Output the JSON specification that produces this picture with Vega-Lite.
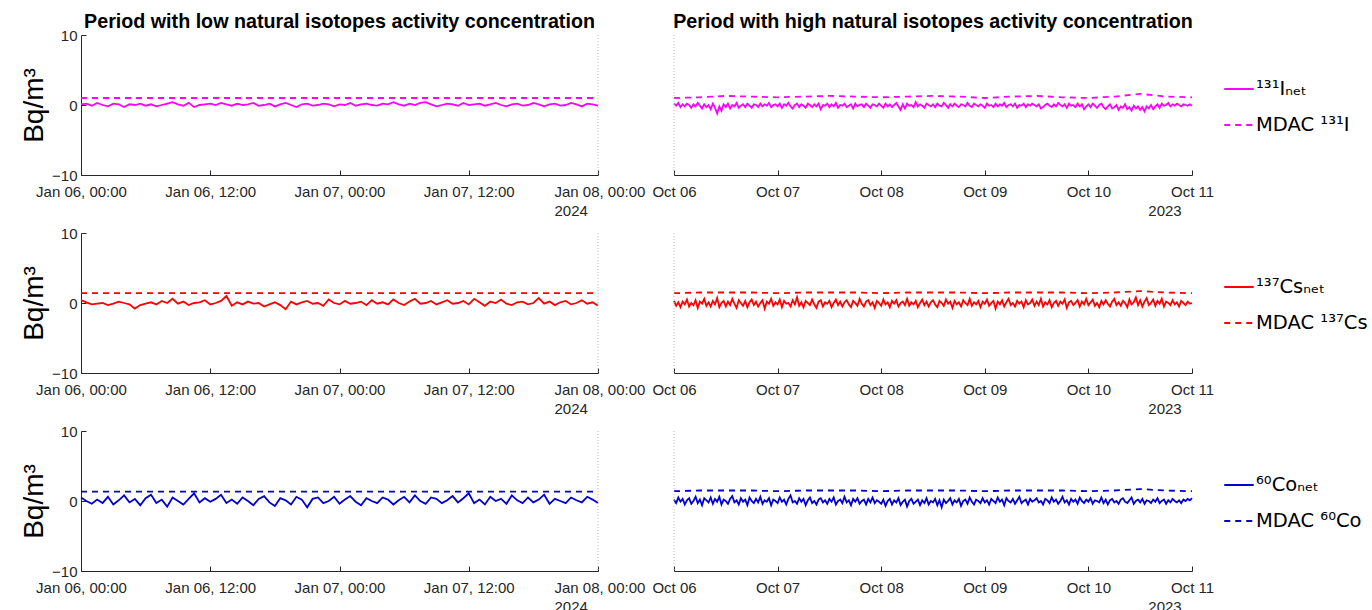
{
"$schema": "https://vega.github.io/schema/vega-lite/v6.json",
"background": "white",
"padding": {"left": 20, "top": 11, "right": 5, "bottom": 5},
"config": {
  "view": {"stroke": null},
  "font": "Liberation Sans",
  "axis": {"grid": false, "labelFont": "Liberation Sans", "labelFontSize": 15, "labelColor": "#262626", "domainColor": "#262626", "tickColor": "#262626", "tickSize": -5, "labelFlush": false, "labelOverlap": false, "titleFont": "Liberation Sans"},
  "axisX": {"labelPadding": 14},
  "axisY": {"labelPadding": 9},
  "legend": {"symbolType": "stroke", "symbolSize": 870, "symbolStrokeWidth": 2, "labelFontSize": 19.5, "labelFont": "DejaVu Sans", "labelColor": "#000000", "labelOffset": 1, "rowPadding": 10, "padding": 0, "labelLimit": 300},
  "title": {"font": "Liberation Sans", "fontSize": 19.7, "fontWeight": "bold", "color": "#000000", "anchor": "middle"}
},
"datasets": {
"janN": [
{"t":"2024-01-06T00:00","i":0.1,"c":0.4,"o":0.5},
{"t":"2024-01-06T00:30","i":0.2,"c":0.1,"o":0.0},
{"t":"2024-01-06T01:00","i":-0.1,"c":-0.2,"o":-0.4},
{"t":"2024-01-06T01:30","i":0.3,"c":-0.1,"o":0.2},
{"t":"2024-01-06T02:00","i":0.0,"c":0.0,"o":-0.3},
{"t":"2024-01-06T02:30","i":-0.2,"c":-0.3,"o":0.6},
{"t":"2024-01-06T03:00","i":0.2,"c":-0.1,"o":-0.5},
{"t":"2024-01-06T03:30","i":0.1,"c":0.2,"o":0.1},
{"t":"2024-01-06T04:00","i":-0.3,"c":0.0,"o":0.8},
{"t":"2024-01-06T04:30","i":0.1,"c":-0.2,"o":-0.2},
{"t":"2024-01-06T05:00","i":0.0,"c":-0.8,"o":0.3},
{"t":"2024-01-06T05:30","i":0.2,"c":-0.3,"o":-0.6},
{"t":"2024-01-06T06:00","i":-0.1,"c":-0.1,"o":0.4},
{"t":"2024-01-06T06:30","i":0.1,"c":0.1,"o":0.9},
{"t":"2024-01-06T07:00","i":-0.2,"c":-0.2,"o":-0.3},
{"t":"2024-01-06T07:30","i":0.0,"c":0.3,"o":0.2},
{"t":"2024-01-06T08:00","i":0.2,"c":0.0,"o":-0.8},
{"t":"2024-01-06T08:30","i":0.4,"c":0.6,"o":0.5},
{"t":"2024-01-06T09:00","i":0.1,"c":-0.1,"o":0.0},
{"t":"2024-01-06T09:30","i":-0.1,"c":0.2,"o":-0.5},
{"t":"2024-01-06T10:00","i":0.3,"c":-0.3,"o":0.3},
{"t":"2024-01-06T10:30","i":-0.3,"c":0.0,"o":1.1},
{"t":"2024-01-06T11:00","i":0.0,"c":0.1,"o":-0.2},
{"t":"2024-01-06T11:30","i":0.1,"c":0.4,"o":0.4},
{"t":"2024-01-06T12:00","i":0.2,"c":-0.2,"o":-0.1},
{"t":"2024-01-06T12:30","i":0.0,"c":0.0,"o":0.3},
{"t":"2024-01-06T13:00","i":0.3,"c":0.3,"o":0.9},
{"t":"2024-01-06T13:30","i":0.1,"c":1.0,"o":-0.3},
{"t":"2024-01-06T14:00","i":-0.1,"c":-0.4,"o":0.2},
{"t":"2024-01-06T14:30","i":0.2,"c":0.1,"o":-0.4},
{"t":"2024-01-06T15:00","i":0.0,"c":-0.2,"o":0.5},
{"t":"2024-01-06T15:30","i":0.1,"c":0.2,"o":0.0},
{"t":"2024-01-06T16:00","i":0.3,"c":-0.1,"o":-0.6},
{"t":"2024-01-06T16:30","i":-0.1,"c":0.0,"o":0.3},
{"t":"2024-01-06T17:00","i":0.0,"c":-0.5,"o":0.7},
{"t":"2024-01-06T17:30","i":0.2,"c":-0.2,"o":-0.2},
{"t":"2024-01-06T18:00","i":-0.2,"c":0.1,"o":-0.7},
{"t":"2024-01-06T18:30","i":0.1,"c":-0.3,"o":0.4},
{"t":"2024-01-06T19:00","i":0.3,"c":-0.9,"o":0.1},
{"t":"2024-01-06T19:30","i":0.0,"c":0.2,"o":-0.5},
{"t":"2024-01-06T20:00","i":-0.3,"c":-0.2,"o":0.6},
{"t":"2024-01-06T20:30","i":0.1,"c":0.1,"o":0.2},
{"t":"2024-01-06T21:00","i":0.2,"c":0.3,"o":-0.9},
{"t":"2024-01-06T21:30","i":-0.1,"c":-0.1,"o":0.3},
{"t":"2024-01-06T22:00","i":0.0,"c":0.0,"o":0.5},
{"t":"2024-01-06T22:30","i":0.2,"c":-0.4,"o":-0.3},
{"t":"2024-01-06T23:00","i":0.1,"c":0.5,"o":0.0},
{"t":"2024-01-06T23:30","i":-0.2,"c":0.0,"o":0.6},
{"t":"2024-01-07T00:00","i":0.1,"c":-0.2,"o":-0.4},
{"t":"2024-01-07T00:30","i":0.0,"c":0.3,"o":0.2},
{"t":"2024-01-07T01:00","i":0.3,"c":-0.1,"o":0.7},
{"t":"2024-01-07T01:30","i":-0.1,"c":0.0,"o":-0.1},
{"t":"2024-01-07T02:00","i":0.1,"c":0.2,"o":-0.6},
{"t":"2024-01-07T02:30","i":0.2,"c":-0.3,"o":0.4},
{"t":"2024-01-07T03:00","i":0.0,"c":0.4,"o":0.0},
{"t":"2024-01-07T03:30","i":-0.1,"c":-0.1,"o":-0.3},
{"t":"2024-01-07T04:00","i":0.2,"c":0.1,"o":0.5},
{"t":"2024-01-07T04:30","i":0.1,"c":-0.2,"o":0.2},
{"t":"2024-01-07T05:00","i":0.4,"c":0.5,"o":-0.5},
{"t":"2024-01-07T05:30","i":0.1,"c":0.0,"o":0.1},
{"t":"2024-01-07T06:00","i":-0.1,"c":-0.3,"o":0.6},
{"t":"2024-01-07T06:30","i":0.2,"c":0.2,"o":-0.2},
{"t":"2024-01-07T07:00","i":0.0,"c":0.6,"o":0.8},
{"t":"2024-01-07T07:30","i":0.3,"c":-0.1,"o":0.0},
{"t":"2024-01-07T08:00","i":0.4,"c":0.0,"o":-0.4},
{"t":"2024-01-07T08:30","i":0.1,"c":0.3,"o":0.5},
{"t":"2024-01-07T09:00","i":-0.2,"c":-0.2,"o":0.3},
{"t":"2024-01-07T09:30","i":0.0,"c":0.1,"o":-0.3},
{"t":"2024-01-07T10:00","i":0.2,"c":0.4,"o":0.1},
{"t":"2024-01-07T10:30","i":0.1,"c":-0.1,"o":0.7},
{"t":"2024-01-07T11:00","i":-0.1,"c":0.0,"o":-0.2},
{"t":"2024-01-07T11:30","i":0.3,"c":0.3,"o":0.4},
{"t":"2024-01-07T12:00","i":0.0,"c":-0.2,"o":1.1},
{"t":"2024-01-07T12:30","i":0.1,"c":0.6,"o":-0.3},
{"t":"2024-01-07T13:00","i":0.2,"c":0.1,"o":0.2},
{"t":"2024-01-07T13:30","i":-0.1,"c":-0.4,"o":-0.5},
{"t":"2024-01-07T14:00","i":0.1,"c":0.2,"o":0.6},
{"t":"2024-01-07T14:30","i":0.3,"c":0.0,"o":0.0},
{"t":"2024-01-07T15:00","i":0.0,"c":0.5,"o":0.3},
{"t":"2024-01-07T15:30","i":-0.2,"c":-0.1,"o":-0.4},
{"t":"2024-01-07T16:00","i":0.1,"c":-0.3,"o":0.8},
{"t":"2024-01-07T16:30","i":0.2,"c":0.1,"o":0.1},
{"t":"2024-01-07T17:00","i":-0.1,"c":0.2,"o":-0.3},
{"t":"2024-01-07T17:30","i":0.0,"c":-0.2,"o":0.5},
{"t":"2024-01-07T18:00","i":0.3,"c":0.0,"o":-0.2},
{"t":"2024-01-07T18:30","i":0.1,"c":0.7,"o":0.2},
{"t":"2024-01-07T19:00","i":-0.2,"c":-0.1,"o":0.9},
{"t":"2024-01-07T19:30","i":0.1,"c":0.2,"o":-0.4},
{"t":"2024-01-07T20:00","i":0.2,"c":-0.3,"o":0.3},
{"t":"2024-01-07T20:30","i":-0.1,"c":0.1,"o":0.0},
{"t":"2024-01-07T21:00","i":0.0,"c":0.3,"o":-0.3},
{"t":"2024-01-07T21:30","i":0.3,"c":-0.2,"o":0.5},
{"t":"2024-01-07T22:00","i":0.1,"c":0.0,"o":0.1},
{"t":"2024-01-07T22:30","i":-0.2,"c":0.4,"o":-0.2},
{"t":"2024-01-07T23:00","i":0.2,"c":-0.1,"o":0.6},
{"t":"2024-01-07T23:30","i":0.1,"c":0.1,"o":0.2},
{"t":"2024-01-08T00:00","i":-0.1,"c":-0.4,"o":-0.3}
],
"janM": [
{"t":"2024-01-06T00:00","i":1.0,"c":1.4,"o":1.35},
{"t":"2024-01-08T00:00","i":1.0,"c":1.4,"o":1.35}
],
"octM": [
{"t":"2023-10-06T00:00","i":1.0,"c":1.4,"o":1.4},
{"t":"2023-10-06T06:00","i":1.1,"c":1.5,"o":1.5},
{"t":"2023-10-06T12:00","i":1.3,"c":1.5,"o":1.5},
{"t":"2023-10-06T18:00","i":1.2,"c":1.5,"o":1.5},
{"t":"2023-10-07T00:00","i":1.1,"c":1.4,"o":1.4},
{"t":"2023-10-07T06:00","i":1.2,"c":1.5,"o":1.5},
{"t":"2023-10-07T12:00","i":1.3,"c":1.5,"o":1.5},
{"t":"2023-10-07T18:00","i":1.2,"c":1.5,"o":1.5},
{"t":"2023-10-08T00:00","i":1.1,"c":1.4,"o":1.4},
{"t":"2023-10-08T06:00","i":1.2,"c":1.5,"o":1.5},
{"t":"2023-10-08T12:00","i":1.3,"c":1.5,"o":1.5},
{"t":"2023-10-08T18:00","i":1.2,"c":1.5,"o":1.5},
{"t":"2023-10-09T00:00","i":1.0,"c":1.4,"o":1.4},
{"t":"2023-10-09T06:00","i":1.2,"c":1.5,"o":1.5},
{"t":"2023-10-09T12:00","i":1.3,"c":1.5,"o":1.5},
{"t":"2023-10-09T18:00","i":1.1,"c":1.5,"o":1.5},
{"t":"2023-10-10T00:00","i":1.0,"c":1.4,"o":1.4},
{"t":"2023-10-10T06:00","i":1.2,"c":1.5,"o":1.5},
{"t":"2023-10-10T12:00","i":1.6,"c":1.7,"o":1.7},
{"t":"2023-10-10T18:00","i":1.2,"c":1.5,"o":1.5},
{"t":"2023-10-11T00:00","i":1.1,"c":1.4,"o":1.4}
],
"octN": [
{"t":"2023-10-06T00:00","i":0.2,"c":0.3,"o":0.2},
{"t":"2023-10-06T00:30","i":-0.1,"c":-0.4,"o":-0.3},
{"t":"2023-10-06T01:00","i":0.3,"c":0.1,"o":0.5},
{"t":"2023-10-06T01:30","i":-0.3,"c":-0.6,"o":-0.1},
{"t":"2023-10-06T02:00","i":0.1,"c":0.2,"o":0.3},
{"t":"2023-10-06T02:30","i":-0.2,"c":-0.2,"o":-0.5},
{"t":"2023-10-06T03:00","i":0.2,"c":0.5,"o":0.1},
{"t":"2023-10-06T03:30","i":0.0,"c":-0.5,"o":0.4},
{"t":"2023-10-06T04:00","i":-0.4,"c":0.0,"o":-0.4},
{"t":"2023-10-06T04:30","i":0.1,"c":-0.3,"o":0.0},
{"t":"2023-10-06T05:00","i":-0.2,"c":0.4,"o":0.6},
{"t":"2023-10-06T05:30","i":0.3,"c":-0.7,"o":-0.3},
{"t":"2023-10-06T06:00","i":-0.1,"c":0.2,"o":0.2},
{"t":"2023-10-06T06:30","i":-0.5,"c":-0.1,"o":-0.6},
{"t":"2023-10-06T07:00","i":0.1,"c":0.6,"o":0.4},
{"t":"2023-10-06T07:30","i":-0.3,"c":-0.4,"o":0.1},
{"t":"2023-10-06T08:00","i":0.0,"c":0.1,"o":-0.2},
{"t":"2023-10-06T08:30","i":-0.6,"c":-0.5,"o":0.5},
{"t":"2023-10-06T09:00","i":0.2,"c":0.3,"o":-0.4},
{"t":"2023-10-06T09:30","i":-0.4,"c":-0.2,"o":0.3},
{"t":"2023-10-06T10:00","i":-1.2,"c":0.7,"o":-0.1},
{"t":"2023-10-06T10:30","i":-0.2,"c":-0.6,"o":0.6},
{"t":"2023-10-06T11:00","i":-0.8,"c":0.0,"o":-0.5},
{"t":"2023-10-06T11:30","i":0.1,"c":0.3,"o":0.2},
{"t":"2023-10-06T12:00","i":-0.3,"c":-0.5,"o":0.0},
{"t":"2023-10-06T12:30","i":0.2,"c":0.2,"o":-0.4},
{"t":"2023-10-06T13:00","i":-0.5,"c":-0.3,"o":0.3},
{"t":"2023-10-06T13:30","i":0.0,"c":0.6,"o":0.7},
{"t":"2023-10-06T14:00","i":-0.2,"c":-0.1,"o":-0.2},
{"t":"2023-10-06T14:30","i":0.3,"c":-0.7,"o":0.1},
{"t":"2023-10-06T15:00","i":-0.4,"c":0.4,"o":-0.5},
{"t":"2023-10-06T15:30","i":-0.1,"c":0.0,"o":0.4},
{"t":"2023-10-06T16:00","i":0.1,"c":-0.4,"o":-0.1},
{"t":"2023-10-06T16:30","i":-0.3,"c":0.3,"o":0.2},
{"t":"2023-10-06T17:00","i":0.2,"c":-0.6,"o":-0.6},
{"t":"2023-10-06T17:30","i":-0.1,"c":0.1,"o":0.5},
{"t":"2023-10-06T18:00","i":-0.4,"c":0.5,"o":0.0},
{"t":"2023-10-06T18:30","i":0.1,"c":-0.3,"o":-0.3},
{"t":"2023-10-06T19:00","i":0.0,"c":0.2,"o":0.3},
{"t":"2023-10-06T19:30","i":-0.3,"c":-0.5,"o":-0.2},
{"t":"2023-10-06T20:00","i":0.2,"c":0.0,"o":0.6},
{"t":"2023-10-06T20:30","i":-0.2,"c":0.4,"o":-0.4},
{"t":"2023-10-06T21:00","i":0.1,"c":-0.8,"o":0.1},
{"t":"2023-10-06T21:30","i":-0.1,"c":0.2,"o":-0.1},
{"t":"2023-10-06T22:00","i":0.3,"c":-0.1,"o":0.4},
{"t":"2023-10-06T22:30","i":-0.3,"c":0.6,"o":-0.6},
{"t":"2023-10-06T23:00","i":0.0,"c":-0.4,"o":0.2},
{"t":"2023-10-06T23:30","i":0.1,"c":0.1,"o":0.0},
{"t":"2023-10-07T00:00","i":-0.2,"c":-0.2,"o":-0.3},
{"t":"2023-10-07T00:30","i":0.2,"c":0.5,"o":0.5},
{"t":"2023-10-07T01:00","i":-0.4,"c":-0.6,"o":-0.1},
{"t":"2023-10-07T01:30","i":0.1,"c":0.3,"o":0.2},
{"t":"2023-10-07T02:00","i":-0.1,"c":-0.1,"o":-0.5},
{"t":"2023-10-07T02:30","i":0.3,"c":0.0,"o":0.3},
{"t":"2023-10-07T03:00","i":-0.2,"c":-0.5,"o":0.8},
{"t":"2023-10-07T03:30","i":-0.5,"c":0.4,"o":-0.2},
{"t":"2023-10-07T04:00","i":0.0,"c":-0.2,"o":0.0},
{"t":"2023-10-07T04:30","i":0.2,"c":0.8,"o":-0.4},
{"t":"2023-10-07T05:00","i":-0.3,"c":-0.4,"o":0.4},
{"t":"2023-10-07T05:30","i":0.1,"c":0.1,"o":-0.1},
{"t":"2023-10-07T06:00","i":-0.1,"c":-0.6,"o":0.3},
{"t":"2023-10-07T06:30","i":-0.4,"c":0.3,"o":-0.6},
{"t":"2023-10-07T07:00","i":0.2,"c":0.0,"o":0.1},
{"t":"2023-10-07T07:30","i":0.0,"c":-0.3,"o":0.5},
{"t":"2023-10-07T08:00","i":-0.3,"c":0.5,"o":-0.3},
{"t":"2023-10-07T08:30","i":0.1,"c":-0.2,"o":0.0},
{"t":"2023-10-07T09:00","i":-0.2,"c":-0.7,"o":-0.5},
{"t":"2023-10-07T09:30","i":0.2,"c":0.2,"o":0.2},
{"t":"2023-10-07T10:00","i":-0.6,"c":0.4,"o":0.4},
{"t":"2023-10-07T10:30","i":0.0,"c":-0.5,"o":-0.2},
{"t":"2023-10-07T11:00","i":-0.1,"c":0.1,"o":0.1},
{"t":"2023-10-07T11:30","i":0.2,"c":-0.1,"o":-0.4},
{"t":"2023-10-07T12:00","i":-0.3,"c":0.3,"o":0.3},
{"t":"2023-10-07T12:30","i":0.1,"c":-0.6,"o":-0.1},
{"t":"2023-10-07T13:00","i":-0.2,"c":0.0,"o":0.5},
{"t":"2023-10-07T13:30","i":0.3,"c":0.5,"o":-0.5},
{"t":"2023-10-07T14:00","i":-0.4,"c":-0.3,"o":0.0},
{"t":"2023-10-07T14:30","i":0.0,"c":0.2,"o":0.2},
{"t":"2023-10-07T15:00","i":-0.1,"c":-0.5,"o":-0.3},
{"t":"2023-10-07T15:30","i":0.2,"c":0.1,"o":0.6},
{"t":"2023-10-07T16:00","i":-0.3,"c":0.4,"o":-0.2},
{"t":"2023-10-07T16:30","i":-0.1,"c":-0.2,"o":0.1},
{"t":"2023-10-07T17:00","i":0.1,"c":-0.6,"o":-0.6},
{"t":"2023-10-07T17:30","i":-0.5,"c":0.3,"o":0.3},
{"t":"2023-10-07T18:00","i":0.2,"c":0.0,"o":-0.1},
{"t":"2023-10-07T18:30","i":-0.2,"c":-0.4,"o":0.4},
{"t":"2023-10-07T19:00","i":0.0,"c":0.6,"o":-0.4},
{"t":"2023-10-07T19:30","i":0.1,"c":-0.1,"o":0.0},
{"t":"2023-10-07T20:00","i":-0.3,"c":-0.5,"o":0.2},
{"t":"2023-10-07T20:30","i":0.2,"c":0.2,"o":-0.5},
{"t":"2023-10-07T21:00","i":-0.1,"c":0.4,"o":0.3},
{"t":"2023-10-07T21:30","i":-0.4,"c":-0.3,"o":-0.2},
{"t":"2023-10-07T22:00","i":0.1,"c":0.1,"o":0.5},
{"t":"2023-10-07T22:30","i":0.0,"c":-0.7,"o":-0.3},
{"t":"2023-10-07T23:00","i":-0.2,"c":0.3,"o":0.1},
{"t":"2023-10-07T23:30","i":0.2,"c":0.0,"o":-0.1},
{"t":"2023-10-08T00:00","i":-0.1,"c":-0.4,"o":-0.4},
{"t":"2023-10-08T00:30","i":-0.4,"c":0.5,"o":0.2},
{"t":"2023-10-08T01:00","i":0.2,"c":-0.2,"o":-0.7},
{"t":"2023-10-08T01:30","i":-0.2,"c":0.1,"o":0.0},
{"t":"2023-10-08T02:00","i":0.1,"c":-0.6,"o":0.3},
{"t":"2023-10-08T02:30","i":-0.3,"c":0.3,"o":-0.5},
{"t":"2023-10-08T03:00","i":0.0,"c":-0.1,"o":0.1},
{"t":"2023-10-08T03:30","i":0.3,"c":0.4,"o":-0.2},
{"t":"2023-10-08T04:00","i":-0.2,"c":-0.5,"o":0.4},
{"t":"2023-10-08T04:30","i":-0.7,"c":0.0,"o":-0.6},
{"t":"2023-10-08T05:00","i":0.1,"c":0.2,"o":-0.1},
{"t":"2023-10-08T05:30","i":-0.5,"c":-0.3,"o":0.2},
{"t":"2023-10-08T06:00","i":0.2,"c":0.6,"o":-0.8},
{"t":"2023-10-08T06:30","i":-0.1,"c":-0.4,"o":0.0},
{"t":"2023-10-08T07:00","i":0.0,"c":0.1,"o":0.3},
{"t":"2023-10-08T07:30","i":-0.3,"c":-0.2,"o":-0.4},
{"t":"2023-10-08T08:00","i":0.4,"c":0.3,"o":-0.1},
{"t":"2023-10-08T08:30","i":-0.2,"c":-0.6,"o":0.2},
{"t":"2023-10-08T09:00","i":0.1,"c":0.0,"o":-0.6},
{"t":"2023-10-08T09:30","i":-0.1,"c":0.5,"o":0.1},
{"t":"2023-10-08T10:00","i":-0.4,"c":-0.3,"o":-0.3},
{"t":"2023-10-08T10:30","i":0.2,"c":0.2,"o":0.4},
{"t":"2023-10-08T11:00","i":0.0,"c":-0.5,"o":-0.5},
{"t":"2023-10-08T11:30","i":-0.2,"c":0.1,"o":0.0},
{"t":"2023-10-08T12:00","i":0.1,"c":0.4,"o":-0.2},
{"t":"2023-10-08T12:30","i":-0.3,"c":-0.2,"o":0.3},
{"t":"2023-10-08T13:00","i":0.2,"c":-0.6,"o":-0.6},
{"t":"2023-10-08T13:30","i":-0.1,"c":0.3,"o":0.1},
{"t":"2023-10-08T14:00","i":-0.2,"c":0.0,"o":-0.9},
{"t":"2023-10-08T14:30","i":0.3,"c":-0.4,"o":0.2},
{"t":"2023-10-08T15:00","i":0.0,"c":0.5,"o":-0.3},
{"t":"2023-10-08T15:30","i":-0.4,"c":-0.1,"o":0.0},
{"t":"2023-10-08T16:00","i":0.1,"c":0.2,"o":0.4},
{"t":"2023-10-08T16:30","i":-0.2,"c":-0.7,"o":-0.5},
{"t":"2023-10-08T17:00","i":0.2,"c":0.3,"o":0.1},
{"t":"2023-10-08T17:30","i":-0.1,"c":-0.2,"o":-0.2},
{"t":"2023-10-08T18:00","i":-0.3,"c":0.1,"o":0.3},
{"t":"2023-10-08T18:30","i":0.1,"c":-0.5,"o":-0.7},
{"t":"2023-10-08T19:00","i":0.0,"c":0.4,"o":0.0},
{"t":"2023-10-08T19:30","i":-0.2,"c":0.0,"o":0.2},
{"t":"2023-10-08T20:00","i":0.3,"c":-0.3,"o":-0.4},
{"t":"2023-10-08T20:30","i":-0.1,"c":0.6,"o":0.5},
{"t":"2023-10-08T21:00","i":-0.3,"c":-0.4,"o":-0.1},
{"t":"2023-10-08T21:30","i":0.2,"c":0.1,"o":-0.5},
{"t":"2023-10-08T22:00","i":0.0,"c":-0.2,"o":0.2},
{"t":"2023-10-08T22:30","i":-0.2,"c":0.3,"o":0.0},
{"t":"2023-10-08T23:00","i":0.1,"c":-0.6,"o":-0.3},
{"t":"2023-10-08T23:30","i":-0.1,"c":0.2,"o":0.4},
{"t":"2023-10-09T00:00","i":-0.4,"c":-0.1,"o":-0.2},
{"t":"2023-10-09T00:30","i":0.2,"c":0.5,"o":0.1},
{"t":"2023-10-09T01:00","i":-0.1,"c":-0.4,"o":-0.5},
{"t":"2023-10-09T01:30","i":0.0,"c":0.0,"o":0.3},
{"t":"2023-10-09T02:00","i":-0.3,"c":0.3,"o":0.0},
{"t":"2023-10-09T02:30","i":0.2,"c":-0.8,"o":-0.3},
{"t":"2023-10-09T03:00","i":-0.2,"c":0.2,"o":0.5},
{"t":"2023-10-09T03:30","i":0.1,"c":-0.2,"o":-0.1},
{"t":"2023-10-09T04:00","i":-0.1,"c":0.4,"o":0.2},
{"t":"2023-10-09T04:30","i":0.3,"c":-0.5,"o":-0.6},
{"t":"2023-10-09T05:00","i":-0.3,"c":0.1,"o":0.4},
{"t":"2023-10-09T05:30","i":0.0,"c":0.6,"o":0.0},
{"t":"2023-10-09T06:00","i":0.1,"c":-0.3,"o":-0.2},
{"t":"2023-10-09T06:30","i":-0.2,"c":0.0,"o":0.3},
{"t":"2023-10-09T07:00","i":0.2,"c":-0.5,"o":-0.4},
{"t":"2023-10-09T07:30","i":-0.4,"c":0.3,"o":0.1},
{"t":"2023-10-09T08:00","i":0.0,"c":-0.1,"o":0.6},
{"t":"2023-10-09T08:30","i":-0.1,"c":0.2,"o":-0.3},
{"t":"2023-10-09T09:00","i":0.2,"c":-0.6,"o":0.0},
{"t":"2023-10-09T09:30","i":-0.3,"c":0.4,"o":0.2},
{"t":"2023-10-09T10:00","i":0.1,"c":-0.2,"o":-0.5},
{"t":"2023-10-09T10:30","i":-0.1,"c":0.0,"o":0.3},
{"t":"2023-10-09T11:00","i":0.2,"c":0.5,"o":-0.1},
{"t":"2023-10-09T11:30","i":0.0,"c":-0.4,"o":0.1},
{"t":"2023-10-09T12:00","i":-0.2,"c":0.2,"o":0.4},
{"t":"2023-10-09T12:30","i":0.1,"c":-0.3,"o":-0.2},
{"t":"2023-10-09T13:00","i":-0.5,"c":0.6,"o":0.0},
{"t":"2023-10-09T13:30","i":-0.3,"c":-0.5,"o":-0.5},
{"t":"2023-10-09T14:00","i":0.0,"c":0.1,"o":0.3},
{"t":"2023-10-09T14:30","i":0.2,"c":-0.2,"o":0.1},
{"t":"2023-10-09T15:00","i":-0.1,"c":0.4,"o":-0.3},
{"t":"2023-10-09T15:30","i":-0.3,"c":-0.6,"o":0.5},
{"t":"2023-10-09T16:00","i":0.1,"c":0.0,"o":-0.1},
{"t":"2023-10-09T16:30","i":-0.2,"c":0.3,"o":0.2},
{"t":"2023-10-09T17:00","i":0.3,"c":-0.4,"o":-0.4},
{"t":"2023-10-09T17:30","i":0.0,"c":0.2,"o":0.0},
{"t":"2023-10-09T18:00","i":-0.2,"c":-0.1,"o":0.6},
{"t":"2023-10-09T18:30","i":0.1,"c":0.5,"o":-0.2},
{"t":"2023-10-09T19:00","i":-0.4,"c":-0.7,"o":0.1},
{"t":"2023-10-09T19:30","i":0.2,"c":0.1,"o":-0.5},
{"t":"2023-10-09T20:00","i":-0.1,"c":0.3,"o":0.3},
{"t":"2023-10-09T20:30","i":0.0,"c":-0.3,"o":-0.1},
{"t":"2023-10-09T21:00","i":-0.3,"c":0.0,"o":0.2},
{"t":"2023-10-09T21:30","i":0.2,"c":0.4,"o":-0.4},
{"t":"2023-10-09T22:00","i":-0.2,"c":-0.5,"o":0.5},
{"t":"2023-10-09T22:30","i":0.1,"c":0.2,"o":0.0},
{"t":"2023-10-09T23:00","i":-0.6,"c":-0.2,"o":-0.3},
{"t":"2023-10-09T23:30","i":-0.2,"c":0.6,"o":0.2},
{"t":"2023-10-10T00:00","i":0.1,"c":-0.3,"o":-0.1},
{"t":"2023-10-10T00:30","i":-0.3,"c":0.1,"o":0.4},
{"t":"2023-10-10T01:00","i":0.2,"c":0.5,"o":-0.4},
{"t":"2023-10-10T01:30","i":-0.1,"c":-0.4,"o":0.1},
{"t":"2023-10-10T02:00","i":-0.4,"c":0.0,"o":0.0},
{"t":"2023-10-10T02:30","i":0.0,"c":-0.6,"o":-0.2},
{"t":"2023-10-10T03:00","i":0.2,"c":0.3,"o":0.5},
{"t":"2023-10-10T03:30","i":-0.3,"c":-0.2,"o":-0.3},
{"t":"2023-10-10T04:00","i":-0.6,"c":0.4,"o":0.2},
{"t":"2023-10-10T04:30","i":-0.2,"c":-0.1,"o":-0.5},
{"t":"2023-10-10T05:00","i":0.1,"c":-0.5,"o":0.1},
{"t":"2023-10-10T05:30","i":-0.5,"c":0.2,"o":0.3},
{"t":"2023-10-10T06:00","i":-0.3,"c":0.6,"o":-0.2},
{"t":"2023-10-10T06:30","i":0.0,"c":-0.3,"o":0.0},
{"t":"2023-10-10T07:00","i":-0.7,"c":0.1,"o":-0.4},
{"t":"2023-10-10T07:30","i":-0.2,"c":-0.4,"o":0.2},
{"t":"2023-10-10T08:00","i":-0.4,"c":0.3,"o":0.4},
{"t":"2023-10-10T08:30","i":0.1,"c":0.0,"o":-0.1},
{"t":"2023-10-10T09:00","i":-0.6,"c":-0.6,"o":-0.3},
{"t":"2023-10-10T09:30","i":-0.3,"c":0.5,"o":0.1},
{"t":"2023-10-10T10:00","i":-0.8,"c":-0.2,"o":0.5},
{"t":"2023-10-10T10:30","i":-0.1,"c":0.1,"o":-0.4},
{"t":"2023-10-10T11:00","i":-0.5,"c":0.8,"o":0.0},
{"t":"2023-10-10T11:30","i":-0.2,"c":-0.3,"o":0.2},
{"t":"2023-10-10T12:00","i":-0.7,"c":0.4,"o":-0.2},
{"t":"2023-10-10T12:30","i":-0.3,"c":-0.5,"o":0.3},
{"t":"2023-10-10T13:00","i":-0.9,"c":0.2,"o":-0.4},
{"t":"2023-10-10T13:30","i":-0.2,"c":0.7,"o":0.1},
{"t":"2023-10-10T14:00","i":-0.5,"c":-0.3,"o":0.0},
{"t":"2023-10-10T14:30","i":0.0,"c":0.0,"o":-0.3},
{"t":"2023-10-10T15:00","i":-0.6,"c":0.5,"o":0.2},
{"t":"2023-10-10T15:30","i":-0.2,"c":-0.4,"o":-0.1},
{"t":"2023-10-10T16:00","i":0.1,"c":0.3,"o":0.4},
{"t":"2023-10-10T16:30","i":-0.4,"c":-0.1,"o":-0.3},
{"t":"2023-10-10T17:00","i":0.2,"c":0.6,"o":0.0},
{"t":"2023-10-10T17:30","i":-0.1,"c":-0.5,"o":0.2},
{"t":"2023-10-10T18:00","i":0.0,"c":0.2,"o":-0.4},
{"t":"2023-10-10T18:30","i":0.3,"c":0.0,"o":0.1},
{"t":"2023-10-10T19:00","i":-0.2,"c":-0.3,"o":-0.2},
{"t":"2023-10-10T19:30","i":0.1,"c":0.4,"o":0.3},
{"t":"2023-10-10T20:00","i":-0.1,"c":-0.2,"o":0.0},
{"t":"2023-10-10T20:30","i":0.2,"c":0.1,"o":-0.2},
{"t":"2023-10-10T21:00","i":0.0,"c":-0.5,"o":0.1},
{"t":"2023-10-10T21:30","i":-0.2,"c":0.3,"o":-0.3},
{"t":"2023-10-10T22:00","i":0.1,"c":0.0,"o":0.2},
{"t":"2023-10-10T22:30","i":0.0,"c":-0.3,"o":0.0},
{"t":"2023-10-10T23:00","i":-0.1,"c":0.2,"o":0.3},
{"t":"2023-10-10T23:30","i":0.1,"c":-0.1,"o":0.1},
{"t":"2023-10-11T00:00","i":-0.1,"c":0.0,"o":0.4}
]
},
"columns": 2,
"bounds": "flush",
"spacing": {"row": 58, "column": 76},
"resolve": {"scale": {"color": "independent", "strokeDash": "independent"}, "legend": {"color": "independent", "strokeDash": "independent"}},
"concat": [
    {
      "width": 517, "height": 140,
      "title": {"text": "Period with low natural isotopes activity concentration", "offset": -4},
      "layer": [
        {"data": {"name": "janN"}, "mark": {"type": "line", "strokeWidth": 1.8, "color": "#FF00FF"},
         "encoding": {
           "x": {"field": "t", "type": "temporal", "scale": {"domain": [{"year": 2024, "month": 1, "date": 6}, {"year": 2024, "month": 1, "date": 8}]},
                 "axis": {"title": null, "values": [{"year": 2024, "month": 1, "date": 6, "hours": 0}, {"year": 2024, "month": 1, "date": 6, "hours": 12}, {"year": 2024, "month": 1, "date": 7, "hours": 0}, {"year": 2024, "month": 1, "date": 7, "hours": 12}, {"year": 2024, "month": 1, "date": 8, "hours": 0}], "format": "%b %d, %H:%M", "labelExpr": "datum.index == 1 ? [datum.label, '2024'] : datum.label", "labelLineHeight": 19, "labelAlign": {"condition": {"test": "datum.index == 1", "value": "left"}, "value": "center"}, "labelOffset": {"condition": {"test": "datum.index == 1", "value": -44}, "value": 0}}},
           "y": {"field": "i", "type": "quantitative", "scale": {"domain": [-10, 10]}, "axis": {"title": "Bq/m³", "values": [-10, -5, 0, 5, 10], "titleFontSize": 28, "titleFontWeight": "normal", "titleColor": "#000000", "titlePadding": 3}}
         }},
        {"data": {"name": "janM"}, "mark": {"type": "line", "strokeWidth": 1.8, "color": "#FF00FF", "strokeDash": [6, 5]},
         "encoding": {"x": {"field": "t", "type": "temporal"}, "y": {"field": "i", "type": "quantitative"}}},
        {"data": {"values": [{}]}, "mark": {"type": "rule", "color": "#bdbdbd", "strokeDash": [1, 2], "strokeWidth": 1},
         "encoding": {"x": {"datum": {"year": 2024, "month": 1, "date": 8}, "type": "temporal"}}}
      ]
    },
    {
      "width": 518, "height": 140,
      "title": {"text": "Period with high natural isotopes activity concentration", "offset": 3},
      "layer": [
        {"data": {"name": "octN"}, "mark": {"type": "line", "strokeWidth": 1.8},
         "encoding": {
           "x": {"field": "t", "type": "temporal", "scale": {"domain": [{"year": 2023, "month": 10, "date": 6}, {"year": 2023, "month": 10, "date": 11}]},
                 "axis": {"title": null, "values": [{"year": 2023, "month": 10, "date": 6}, {"year": 2023, "month": 10, "date": 7}, {"year": 2023, "month": 10, "date": 8}, {"year": 2023, "month": 10, "date": 9}, {"year": 2023, "month": 10, "date": 10}, {"year": 2023, "month": 10, "date": 11}], "format": "%b %d", "labelExpr": "datum.index == 1 ? [datum.label, '2023\u2800\u2800\u2800\u2800\u2800'] : datum.label", "labelLineHeight": 19}},
           "y": {"field": "i", "type": "quantitative", "scale": {"domain": [-10, 10]}, "axis": null},
           "color": {"datum": "¹³¹Iₙₑₜ", "type": "nominal", "scale": {"domain": ["¹³¹Iₙₑₜ", "MDAC ¹³¹I"], "range": ["#FF00FF", "#FF00FF"]}, "legend": {"title": null, "orient": "none", "legendX": 549, "legendY": 38}},
           "strokeDash": {"datum": "¹³¹Iₙₑₜ", "type": "nominal", "scale": {"domain": ["¹³¹Iₙₑₜ", "MDAC ¹³¹I"], "range": [[1, 0], [6, 5]]}, "legend": {"title": null, "orient": "none", "legendX": 549, "legendY": 38}}
         }},
        {"data": {"name": "octM"}, "mark": {"type": "line", "strokeWidth": 1.8},
         "encoding": {"x": {"field": "t", "type": "temporal"}, "y": {"field": "i", "type": "quantitative"},
           "color": {"datum": "MDAC ¹³¹I", "type": "nominal"},
           "strokeDash": {"datum": "MDAC ¹³¹I", "type": "nominal"}}},
        {"data": {"values": [{}]}, "mark": {"type": "rule", "color": "#bdbdbd", "strokeDash": [1, 2], "strokeWidth": 1},
         "encoding": {"x": {"datum": {"year": 2023, "month": 10, "date": 6}, "type": "temporal"}}}
      ]
    },
    {
      "width": 517, "height": 140,
      "layer": [
        {"data": {"name": "janN"}, "mark": {"type": "line", "strokeWidth": 1.8, "color": "#FF0000"},
         "encoding": {
           "x": {"field": "t", "type": "temporal", "scale": {"domain": [{"year": 2024, "month": 1, "date": 6}, {"year": 2024, "month": 1, "date": 8}]},
                 "axis": {"title": null, "values": [{"year": 2024, "month": 1, "date": 6, "hours": 0}, {"year": 2024, "month": 1, "date": 6, "hours": 12}, {"year": 2024, "month": 1, "date": 7, "hours": 0}, {"year": 2024, "month": 1, "date": 7, "hours": 12}, {"year": 2024, "month": 1, "date": 8, "hours": 0}], "format": "%b %d, %H:%M", "labelExpr": "datum.index == 1 ? [datum.label, '2024'] : datum.label", "labelLineHeight": 19, "labelAlign": {"condition": {"test": "datum.index == 1", "value": "left"}, "value": "center"}, "labelOffset": {"condition": {"test": "datum.index == 1", "value": -44}, "value": 0}}},
           "y": {"field": "c", "type": "quantitative", "scale": {"domain": [-10, 10]}, "axis": {"title": "Bq/m³", "values": [-10, -5, 0, 5, 10], "titleFontSize": 28, "titleFontWeight": "normal", "titleColor": "#000000", "titlePadding": 3}}
         }},
        {"data": {"name": "janM"}, "mark": {"type": "line", "strokeWidth": 1.8, "color": "#FF0000", "strokeDash": [6, 5]},
         "encoding": {"x": {"field": "t", "type": "temporal"}, "y": {"field": "c", "type": "quantitative"}}},
        {"data": {"values": [{}]}, "mark": {"type": "rule", "color": "#bdbdbd", "strokeDash": [1, 2], "strokeWidth": 1},
         "encoding": {"x": {"datum": {"year": 2024, "month": 1, "date": 8}, "type": "temporal"}}}
      ]
    },
    {
      "width": 518, "height": 140,
      "layer": [
        {"data": {"name": "octN"}, "mark": {"type": "line", "strokeWidth": 1.8},
         "encoding": {
           "x": {"field": "t", "type": "temporal", "scale": {"domain": [{"year": 2023, "month": 10, "date": 6}, {"year": 2023, "month": 10, "date": 11}]},
                 "axis": {"title": null, "values": [{"year": 2023, "month": 10, "date": 6}, {"year": 2023, "month": 10, "date": 7}, {"year": 2023, "month": 10, "date": 8}, {"year": 2023, "month": 10, "date": 9}, {"year": 2023, "month": 10, "date": 10}, {"year": 2023, "month": 10, "date": 11}], "format": "%b %d", "labelExpr": "datum.index == 1 ? [datum.label, '2023\u2800\u2800\u2800\u2800\u2800'] : datum.label", "labelLineHeight": 19}},
           "y": {"field": "c", "type": "quantitative", "scale": {"domain": [-10, 10]}, "axis": null},
           "color": {"datum": "¹³⁷Csₙₑₜ", "type": "nominal", "scale": {"domain": ["¹³⁷Csₙₑₜ", "MDAC ¹³⁷Cs"], "range": ["#FF0000", "#FF0000"]}, "legend": {"title": null, "orient": "none", "legendX": 549, "legendY": 38}},
           "strokeDash": {"datum": "¹³⁷Csₙₑₜ", "type": "nominal", "scale": {"domain": ["¹³⁷Csₙₑₜ", "MDAC ¹³⁷Cs"], "range": [[1, 0], [6, 5]]}, "legend": {"title": null, "orient": "none", "legendX": 549, "legendY": 38}}
         }},
        {"data": {"name": "octM"}, "mark": {"type": "line", "strokeWidth": 1.8},
         "encoding": {"x": {"field": "t", "type": "temporal"}, "y": {"field": "c", "type": "quantitative"},
           "color": {"datum": "MDAC ¹³⁷Cs", "type": "nominal"},
           "strokeDash": {"datum": "MDAC ¹³⁷Cs", "type": "nominal"}}},
        {"data": {"values": [{}]}, "mark": {"type": "rule", "color": "#bdbdbd", "strokeDash": [1, 2], "strokeWidth": 1},
         "encoding": {"x": {"datum": {"year": 2023, "month": 10, "date": 6}, "type": "temporal"}}}
      ]
    },
    {
      "width": 517, "height": 140,
      "layer": [
        {"data": {"name": "janN"}, "mark": {"type": "line", "strokeWidth": 1.8, "color": "#0000D0"},
         "encoding": {
           "x": {"field": "t", "type": "temporal", "scale": {"domain": [{"year": 2024, "month": 1, "date": 6}, {"year": 2024, "month": 1, "date": 8}]},
                 "axis": {"title": null, "values": [{"year": 2024, "month": 1, "date": 6, "hours": 0}, {"year": 2024, "month": 1, "date": 6, "hours": 12}, {"year": 2024, "month": 1, "date": 7, "hours": 0}, {"year": 2024, "month": 1, "date": 7, "hours": 12}, {"year": 2024, "month": 1, "date": 8, "hours": 0}], "format": "%b %d, %H:%M", "labelExpr": "datum.index == 1 ? [datum.label, '2024'] : datum.label", "labelLineHeight": 19, "labelAlign": {"condition": {"test": "datum.index == 1", "value": "left"}, "value": "center"}, "labelOffset": {"condition": {"test": "datum.index == 1", "value": -44}, "value": 0}}},
           "y": {"field": "o", "type": "quantitative", "scale": {"domain": [-10, 10]}, "axis": {"title": "Bq/m³", "values": [-10, -5, 0, 5, 10], "titleFontSize": 28, "titleFontWeight": "normal", "titleColor": "#000000", "titlePadding": 3}}
         }},
        {"data": {"name": "janM"}, "mark": {"type": "line", "strokeWidth": 1.8, "color": "#0000D0", "strokeDash": [6, 5]},
         "encoding": {"x": {"field": "t", "type": "temporal"}, "y": {"field": "o", "type": "quantitative"}}},
        {"data": {"values": [{}]}, "mark": {"type": "rule", "color": "#bdbdbd", "strokeDash": [1, 2], "strokeWidth": 1},
         "encoding": {"x": {"datum": {"year": 2024, "month": 1, "date": 8}, "type": "temporal"}}}
      ]
    },
    {
      "width": 518, "height": 140,
      "layer": [
        {"data": {"name": "octN"}, "mark": {"type": "line", "strokeWidth": 1.8},
         "encoding": {
           "x": {"field": "t", "type": "temporal", "scale": {"domain": [{"year": 2023, "month": 10, "date": 6}, {"year": 2023, "month": 10, "date": 11}]},
                 "axis": {"title": null, "values": [{"year": 2023, "month": 10, "date": 6}, {"year": 2023, "month": 10, "date": 7}, {"year": 2023, "month": 10, "date": 8}, {"year": 2023, "month": 10, "date": 9}, {"year": 2023, "month": 10, "date": 10}, {"year": 2023, "month": 10, "date": 11}], "format": "%b %d", "labelExpr": "datum.index == 1 ? [datum.label, '2023\u2800\u2800\u2800\u2800\u2800'] : datum.label", "labelLineHeight": 19}},
           "y": {"field": "o", "type": "quantitative", "scale": {"domain": [-10, 10]}, "axis": null},
           "color": {"datum": "⁶⁰Coₙₑₜ", "type": "nominal", "scale": {"domain": ["⁶⁰Coₙₑₜ", "MDAC ⁶⁰Co"], "range": ["#0000D0", "#0000D0"]}, "legend": {"title": null, "orient": "none", "legendX": 549, "legendY": 38}},
           "strokeDash": {"datum": "⁶⁰Coₙₑₜ", "type": "nominal", "scale": {"domain": ["⁶⁰Coₙₑₜ", "MDAC ⁶⁰Co"], "range": [[1, 0], [6, 5]]}, "legend": {"title": null, "orient": "none", "legendX": 549, "legendY": 38}}
         }},
        {"data": {"name": "octM"}, "mark": {"type": "line", "strokeWidth": 1.8},
         "encoding": {"x": {"field": "t", "type": "temporal"}, "y": {"field": "o", "type": "quantitative"},
           "color": {"datum": "MDAC ⁶⁰Co", "type": "nominal"},
           "strokeDash": {"datum": "MDAC ⁶⁰Co", "type": "nominal"}}},
        {"data": {"values": [{}]}, "mark": {"type": "rule", "color": "#bdbdbd", "strokeDash": [1, 2], "strokeWidth": 1},
         "encoding": {"x": {"datum": {"year": 2023, "month": 10, "date": 6}, "type": "temporal"}}}
      ]
    }
]
}
